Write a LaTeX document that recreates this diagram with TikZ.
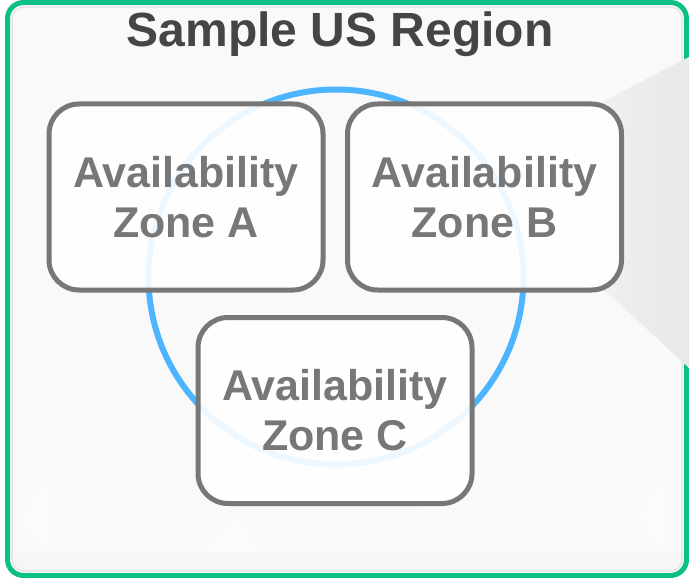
\documentclass[tikz,border=0pt]{standalone}
\usepackage{fontspec}
\setmainfont{Liberation Sans}
\definecolor{regiongreen}{HTML}{0BC086}
\definecolor{panelbg}{HTML}{F9F9F9}
\definecolor{ringblue}{HTML}{4DB4FF}
\definecolor{zonegray}{HTML}{777777}
\definecolor{titlegray}{HTML}{454545}
\definecolor{wedgelight}{HTML}{F0F0F0}
\definecolor{wedgegray}{HTML}{E8E8E8}
\begin{document}
\begin{tikzpicture}[x=1pt,y=-1pt,
  zonebox/.style={draw=zonegray, line width=5pt, rounded corners=30pt,
    fill=white, fill opacity=0.9, text opacity=1, text=zonegray,
    minimum width=274pt, minimum height=186pt, inner sep=0pt,
    align=center, font=\fontsize{43}{50}\selectfont\bfseries},
  facet/.style={fill=white, opacity=0.45}]
  \useasboundingbox (0,0) rectangle (689,578);
  % page and panel background
  \fill[white] (0,0) rectangle (689,578);
  \fill[panelbg, rounded corners=16pt] (7.5,2.5) rectangle (686.5,575.5);
  % faint low-poly facets along the bottom
  \fill[facet] (200,553) -- (233,518) -- (265,553) -- cycle;
  \fill[facet] (20,518) -- (48,480) -- (48,553) -- cycle;
  \fill[facet] (415,515) -- (435,490) -- (455,515) -- cycle;
  \fill[facet] (640,515) -- (663,480) -- (663,553) -- cycle;
  \fill[black, opacity=0.012] (12,553) rectangle (683,572);
  % region frame
  \draw[black!10, line width=1.5pt, rounded corners=12pt] (12,7) rectangle (682,571);
  \draw[regiongreen, line width=5pt, rounded corners=16pt] (7.5,2.5) rectangle (686.5,575.5);
  % grey wedge on the right edge
  \shade[left color=wedgelight, right color=wedgegray] (598,104) -- (689,57) -- (689,368) -- (598,284) -- cycle;
  % ring linking the zones
  \node[circle, draw=ringblue, line width=6pt, minimum size=375pt, inner sep=0pt] (ring) at (336,277) {};
  % availability zones
  \node[zonebox] (zoneA) at (186,197) {Availability\\Zone A};
  \node[zonebox] (zoneB) at (484.5,197) {Availability\\Zone B};
  \node[zonebox] (zoneC) at (335,410.5) {Availability\\Zone C};
  % title
  \node[anchor=base, text=titlegray, font=\fontsize{48}{58}\selectfont\bfseries, inner sep=0pt] (title) at (340,47) {Sample US Region};
\end{tikzpicture}
\end{document}
